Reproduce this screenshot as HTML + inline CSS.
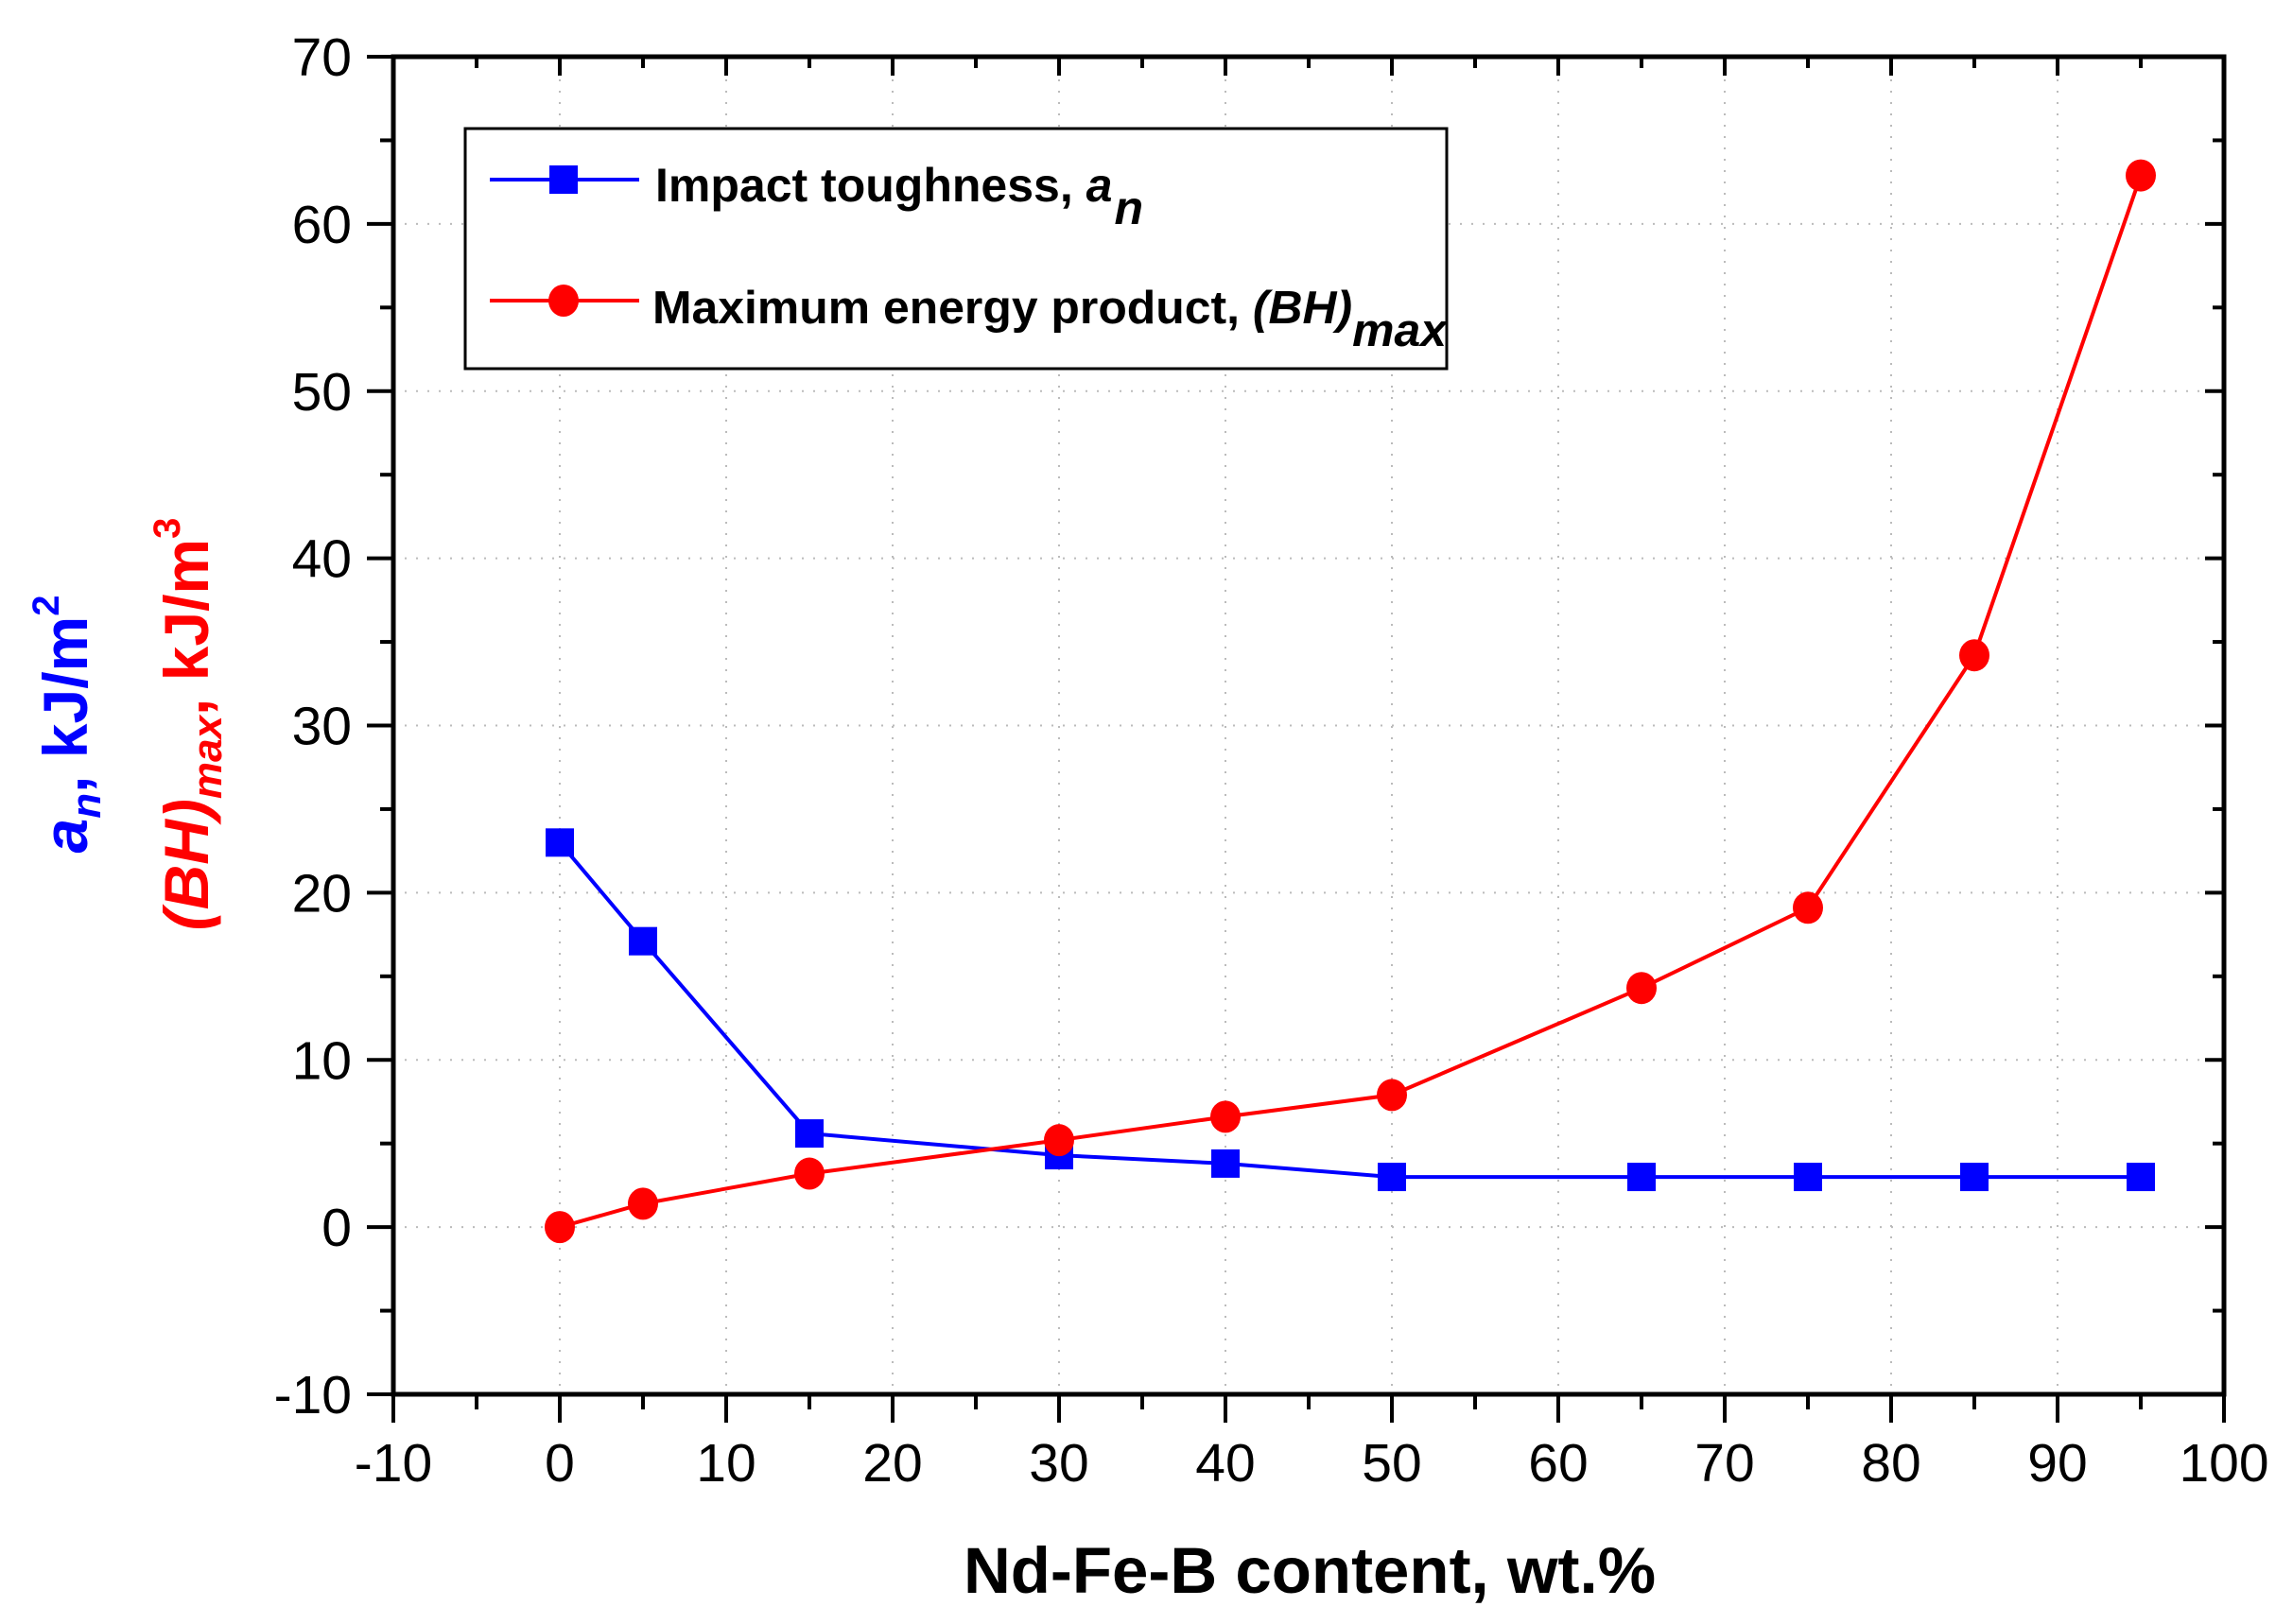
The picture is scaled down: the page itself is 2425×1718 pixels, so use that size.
<!DOCTYPE html>
<html><head><meta charset="utf-8"><style>
html,body{margin:0;padding:0;background:#fff;}
svg{display:block;font-family:"Liberation Sans",sans-serif;}
</style></head><body>
<svg id="chart" width="2425" height="1718" viewBox="0 0 2425 1718" xmlns="http://www.w3.org/2000/svg">
<g id="grid"></g>
<g id="axes"></g>
<g id="series"></g>
<text x="1385" y="1685" font-size="69" font-weight="bold" text-anchor="middle">Nd-Fe-B content, wt.%</text>
<text transform="translate(92,766) rotate(-90)" font-size="66" font-weight="bold" fill="#0000ff" text-anchor="middle"><tspan font-style="italic">a</tspan><tspan font-style="italic" font-size="44" dy="14">n</tspan><tspan dy="-14">, kJ/m</tspan><tspan font-size="40" dy="-30">2</tspan></text>
<text transform="translate(220,766) rotate(-90)" font-size="66" font-weight="bold" fill="#ff0000" text-anchor="middle"><tspan font-style="italic">(BH)</tspan><tspan font-style="italic" font-size="44" dy="14">max</tspan><tspan dy="-14">, kJ/m</tspan><tspan font-size="40" dy="-30">3</tspan></text>
<g>
<rect x="492" y="136" width="1038" height="254" fill="#fff" stroke="#000" stroke-width="3"/>
<line x1="518" y1="190" x2="676" y2="190" stroke="#0000ff" stroke-width="4"/>
<rect x="581" y="175" width="30" height="30" fill="#0000ff"/>
<text x="693" y="213" font-size="50" font-weight="bold">Impact toughness, <tspan font-style="italic">a</tspan><tspan font-style="italic" dx="2" dy="24">n</tspan></text>
<line x1="518" y1="318" x2="676" y2="318" stroke="#0000ff" stroke-width="0"/>
<line x1="518" y1="318" x2="676" y2="318" stroke="#ff0000" stroke-width="4"/>
<ellipse cx="596" cy="318" rx="16" ry="17" fill="#ff0000"/>
<text x="690" y="342" font-size="49" font-weight="bold" textLength="840" lengthAdjust="spacingAndGlyphs">Maximum energy product, <tspan font-style="italic">(BH)</tspan><tspan font-style="italic" dy="24">max</tspan></text>
</g>
</svg>
<script>
const xCats = [0, 5, 15, 30, 40, 50, 65, 75, 85, 95];
const impactVals = [23, 17.1, 5.6, 4.3, 3.8, 3.0, 3.0, 3.0, 3.0, 3.0];
const energyVals = [0, 1.4, 3.2, 5.2, 6.6, 7.9, 14.3, 19.1, 34.2, 62.9];
const xTicks = [-10, 0, 10, 20, 30, 40, 50, 60, 70, 80, 90, 100];
const yTicks = [-10, 0, 10, 20, 30, 40, 50, 60, 70];

const NS = "http://www.w3.org/2000/svg";
const X0 = 416, X1 = 2352, Y0 = 1475, Y1 = 60;
function sx(v){ return X0 + (v + 10) / 110 * (X1 - X0); }
function sy(v){ return Y0 - (v + 10) / 80 * (Y0 - Y1); }
function mk(tag, attrs, parent){ const e = document.createElementNS(NS, tag); for (const k in attrs) e.setAttribute(k, attrs[k]); parent.appendChild(e); return e; }
const grid = document.getElementById('grid');
const axes = document.getElementById('axes');
const series = document.getElementById('series');

xTicks.forEach(t => {
  if (t > -10 && t < 100) {
    const g = mk('line', {x1: sx(t), x2: sx(t), y1: Y1, y2: Y0, stroke: '#bbb', 'stroke-width': 2, 'stroke-dasharray': '2 10'}, grid);
    
    
  }
  const tk = mk('line', {x1: sx(t), x2: sx(t), y1: Y0, y2: Y0 + 30, stroke: '#000', 'stroke-width': 4}, axes);
  
  
  const tt = mk('line', {x1: sx(t), x2: sx(t), y1: Y1, y2: Y1 + 20, stroke: '#000', 'stroke-width': 4}, axes);
  
  
  const lb = mk('text', {x: sx(t), y: Y0 + 92, 'font-size': 57, 'text-anchor': 'middle'}, axes);
  lb.textContent = t;
  
  
  if (t < 100) {
    const m = mk('line', {x1: sx(t + 5), x2: sx(t + 5), y1: Y0, y2: Y0 + 16, stroke: '#000', 'stroke-width': 4}, axes);
    
    
    const mt = mk('line', {x1: sx(t + 5), x2: sx(t + 5), y1: Y1, y2: Y1 + 12, stroke: '#000', 'stroke-width': 4}, axes);
    
    
  }
});
yTicks.forEach(t => {
  if (t > -10 && t < 70) {
    const g = mk('line', {x1: X0, x2: X1, y1: sy(t), y2: sy(t), stroke: '#bbb', 'stroke-width': 2, 'stroke-dasharray': '2 10'}, grid);
    
    
  }
  const tk = mk('line', {x1: X0 - 28, x2: X0, y1: sy(t), y2: sy(t), stroke: '#000', 'stroke-width': 4}, axes);
  
  
  const tr = mk('line', {x1: X1 - 20, x2: X1, y1: sy(t), y2: sy(t), stroke: '#000', 'stroke-width': 4}, axes);
  
  
  const lb = mk('text', {x: X0 - 44, y: sy(t) + 20, 'font-size': 57, 'text-anchor': 'end'}, axes);
  lb.textContent = t;
  
  
  if (t < 70) {
    const m = mk('line', {x1: X0 - 14, x2: X0, y1: sy(t + 5), y2: sy(t + 5), stroke: '#000', 'stroke-width': 4}, axes);
    
    
    const mr = mk('line', {x1: X1 - 12, x2: X1, y1: sy(t + 5), y2: sy(t + 5), stroke: '#000', 'stroke-width': 4}, axes);
    
    
  }
});
const frame = mk('rect', {x: X0, y: Y1, width: X1 - X0, height: Y0 - Y1, fill: 'none', stroke: '#000', 'stroke-width': 5}, axes);



const bl = mk('polyline', {points: xCats.map((x, i) => sx(x) + ',' + sy(impactVals[i])).join(' '), fill: 'none', stroke: '#0000ff', 'stroke-width': 4}, series);


const rl = mk('polyline', {points: xCats.map((x, i) => sx(x) + ',' + sy(energyVals[i])).join(' '), fill: 'none', stroke: '#ff0000', 'stroke-width': 4}, series);


xCats.forEach((x, i) => {
  const s = mk('rect', {x: sx(x) - 15, y: sy(impactVals[i]) - 15, width: 30, height: 30, fill: '#0000ff'}, series);
  
  
});
xCats.forEach((x, i) => {
  const c = mk('ellipse', {cx: sx(x), cy: sy(energyVals[i]), rx: 16, ry: 17, fill: '#ff0000'}, series);
  
  
});
</script>
</body></html>
